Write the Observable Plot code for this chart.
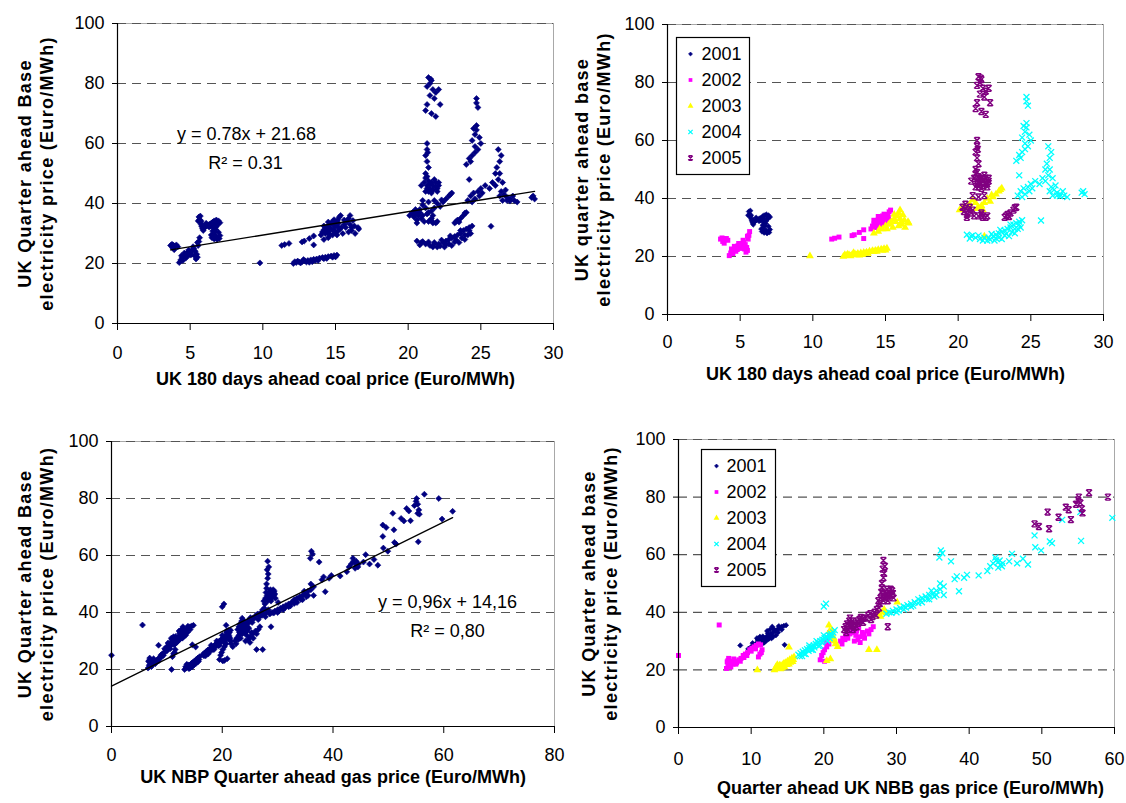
<!DOCTYPE html>
<html><head><meta charset="utf-8">
<script src="https://cdn.jsdelivr.net/npm/d3@7"></script>
<script src="https://cdn.jsdelivr.net/npm/@observablehq/plot@0.6"></script>
<style>
body{margin:0;background:#fff;}
#wrap{position:relative;width:1126px;height:803px;overflow:hidden;background:#fff;}
#wrap > svg{position:absolute;max-width:none;}
</style></head><body><div id="wrap"></div>
<script>
// ---------- data ----------
const years = ["2001","2002","2003","2004","2005"];
const yearColors = ["#000080","#FF00FF","#FFFF00","#00FFFF","#800080"];

// UK 180 days ahead coal price (x) vs quarter ahead base electricity price (y)
const coal2001 = [[5.6,35.5],[5.65,34.6],[5.7,33.8],[5.75,33],[5.8,32.3],[5.85,31.6],[5.9,31],[5.95,31.8],[6.05,32.2],[6.15,32.6],[6.25,32.9],[6.35,33.1],[6.45,33.4],[6.55,33.8],[6.65,34.2],[6.8,34.5],[6.95,34.2],[7.05,33.6],[6.9,33],[6.8,32.3],[6.75,31.4],[6.7,30.5],[6.6,29.6],[6.5,28.6],[6.65,28.2],[6.85,28],[7.0,28.3],[7.05,29.3],[6.95,30.4],[5.55,34.2],[5.7,35.8],[6.3,32.2],[5.75,34.2],[5.9,32.6],[6.1,33.4],[6.4,32.5],[6.6,33],[6.85,33.6],[6.6,31.8],[6.55,30.8],[6.8,29],[6.45,29.5]];
const coal2002 = [[3.65,26],[3.75,26.4],[3.85,26.1],[3.95,25.8],[4.05,26.2],[4.15,25.6],[3.8,25.2],[3.9,24.6],[4.25,20.3],[4.35,21.2],[4.45,21.9],[4.55,22.4],[4.65,22.9],[4.75,23.4],[4.85,23.7],[4.95,23.4],[5.05,23.9],[5.15,24.4],[5.25,25],[5.35,24.1],[5.45,23.1],[5.5,22.1],[5.4,21.5],[5.3,22.6],[5.55,26],[5.6,27.3],[5.65,28.6],[5.5,27],[4.5,21],[4.8,22.4],[5.0,22.8],[4.4,22.6],[4.6,23.5],[4.9,24.5],[5.1,23],[5.2,25.6],[4.7,21.8],[11.3,26],[11.5,26.3],[11.8,26.7],[12.7,27.2],[12.85,27.5],[13.2,28.3],[13.5,29.2],[13.5,26.2],[14.0,29.5],[14.1,30.5],[14.2,31.2],[14.3,31.8],[14.4,32.2],[14.5,32.6],[14.6,33],[14.7,33.3],[14.85,33],[14.95,32.2],[15.05,33.6],[15.15,34.5],[15.25,35.4],[15.35,36],[14.5,30.5],[14.7,31.5],[14.3,30],[15.1,32.5],[14.4,31],[14.8,34],[14.6,29.8],[14.2,32.5],[14.5,33.8],[14.9,34.6],[15.2,33.4],[14.6,31.2],[14.9,30.8]];
const coal2003 = [[9.8,20.2],[12.1,20],[12.3,20.3],[12.5,20.5],[12.7,20.6],[12.9,20.9],[13.1,21],[13.3,21.2],[13.5,21.4],[13.7,21.5],[13.9,21.8],[14.1,22],[14.3,22.1],[14.5,22.3],[14.7,22.5],[14.9,22.7],[15.1,22.8],[13.0,20.5],[13.6,21],[14.2,21.6],[12.6,20.2],[14.8,22.1],[12.4,20.8],[13.4,20.6],[12.2,20.6],[12.8,21.3],[13.2,20.4],[13.8,21],[14.4,21.7],[15.0,22.2],[14.2,28],[14.5,28.6],[14.8,29.5],[15.0,30.5],[15.2,31],[15.4,32],[15.6,33],[15.8,34],[15.9,35],[16.0,36],[16.2,34.3],[16.3,32.5],[16.1,31],[15.9,30.5],[16.35,30],[15.5,30],[15.7,32],[16.0,33],[16.55,32],[16.6,31.5],[14.6,29.5],[15.1,29.5],[15.3,31.5],[15.6,34.5],[16.1,32],[20.1,36],[20.5,37],[20.8,38],[21.0,39.5],[21.2,38.5],[21.4,37],[21.6,37.5],[21.8,38.5],[22.0,40],[22.2,39],[22.4,40.5],[22.6,41.5],[22.8,42.5],[23.0,43.5],[21.3,36.5],[21.7,36],[20.3,36.8],[20.7,37.5],[22.3,41.2],[22.9,43],[21.8,27]];
const coal2004 = [[20.6,27.5],[20.9,27],[21.2,26.5],[21.5,26],[21.8,26.5],[22.1,26.5],[22.4,27],[22.6,27.5],[22.8,28],[23.0,28.5],[23.2,29],[23.4,29.5],[23.6,30],[23.8,31],[24.0,31.5],[24.2,32],[24.4,32.5],[22.0,25.5],[22.5,25.5],[23.0,26],[23.5,27],[23.9,28],[24.3,30],[22.8,26.5],[23.3,27.8],[21.7,25.5],[20.8,26.2],[24.1,29.5],[21.0,27.3],[21.4,27.2],[22.2,25.8],[22.6,26.3],[23.2,27.2],[23.7,28.5],[23.9,29.5],[24.2,31],[22.3,27.8],[22.9,29.2],[23.6,31],[25.7,32.4],[24.1,41],[24.3,42.5],[24.5,43.5],[24.8,44],[25.0,45],[25.3,46],[24.4,40.5],[24.6,41.5],[24.2,48],[24.9,42.5],[25.1,43.5],[24.0,53],[24.2,55],[24.4,56],[24.6,57],[24.8,58],[25.0,60],[24.9,62],[24.6,63],[24.5,65],[24.7,66],[24.3,54],[24.6,59],[24.4,61],[24.7,64.5],[24.7,75],[24.7,73.5],[24.8,72],[26.2,58],[26.4,56],[26.3,54],[26.1,52],[26.0,50],[26.2,48],[26.0,46],[26.4,44],[26.6,43],[26.8,42],[27.0,41.5],[27.3,41],[26.5,41],[26.3,42.5],[25.8,47],[25.6,45],[27.5,40.5],[26.5,47],[26.3,50],[26.7,44.5],[27.2,42.5],[27.0,40.8],[26.8,41],[28.5,42],[28.7,41.5],[28.6,42.5]];
const coal2005 = [[21.4,82],[21.6,81],[21.5,80],[21.3,79],[21.7,78],[21.9,77],[22.1,78],[21.5,76],[21.8,75],[21.3,73],[22.2,73],[21.6,70],[21.9,69],[21.2,71],[21.55,81.5],[21.3,60],[21.3,58],[21.35,57],[21.2,56],[21.3,54],[21.4,52],[21.2,50],[21.3,49],[20.9,46],[21.1,47],[21.3,46],[21.5,45],[21.7,46],[21.9,47],[22.1,46],[22.0,44],[21.6,43.5],[21.2,44],[21.8,48],[21.4,47.5],[21.6,47],[22.0,45],[21.3,45],[21.5,46.5],[21.7,44.5],[21.9,45.5],[21.2,48.5],[21.4,44],[22.1,47],[21.0,41],[21.4,40.5],[21.8,41],[20.3,37],[20.5,38],[20.7,36],[20.6,34.5],[20.9,35],[21.1,34],[20.4,35.5],[20.5,36.5],[20.8,37],[21.0,36],[20.6,33.5],[21.4,34],[21.7,33.5],[22.0,34],[21.6,35],[21.9,33.5],[21.6,34.3],[23.2,33.5],[23.4,34.5],[23.6,35],[23.8,36],[24.0,37],[23.5,33.8],[23.9,36.8],[23.3,34]];

// UK NBP quarter ahead gas price (x) vs quarter ahead base electricity price (y)
const gas2001 = [[8.5,28.5],[9.6,27.3],[10.0,28],[10.3,28.5],[10.6,29],[10.9,29.5],[11.2,30],[11.5,30.5],[11.8,31],[12.1,31.5],[12.4,32],[12.7,32.5],[13.0,33],[13.3,33.5],[13.6,34],[13.9,34.5],[14.2,35],[14.5,35.3],[14.8,35.5],[12.0,30],[12.5,31],[13.0,31.5],[12.2,33.5],[12.6,34],[11.5,29],[13.4,32],[11.2,31.5],[12.9,35],[10.8,31],[13.7,33],[14.6,28.7],[11.8,29.5],[12.3,30.5],[10.2,29.3],[10.9,30.4],[11.6,31.6],[12.3,32.7],[13.1,34.2],[13.8,35.2],[14.2,34],[12.8,31],[11.4,29.8]];
const gas2002 = [[0,25],[5.6,35.6],[6.6,20.5],[6.8,21.5],[7.0,22.5],[7.2,21],[7.5,22],[7.8,23],[8.0,22.5],[8.3,23.5],[8.6,24],[8.9,25],[9.2,25.5],[9.5,26],[9.8,27],[10.1,27.5],[10.4,28],[10.7,28.5],[11.0,29],[11.3,28.7],[11.5,27],[11.2,25.5],[11.0,24.5],[11.4,26],[7.3,23],[6.9,24],[6.7,22.8],[7.6,23.8],[7.1,21.6],[7.4,22.5],[7.9,22],[8.5,23],[9.0,24.3],[9.4,25],[10.0,26.5],[10.6,27.3],[6.8,23.2],[19.5,23.5],[19.7,25],[19.9,26],[20.1,27],[20.4,28],[20.7,29],[20.5,31],[20.8,33],[20.1,23],[20.3,29.5],[22.3,30],[22.6,31],[23.0,32],[23.3,31],[23.6,32.5],[24.0,33],[24.4,32],[24.7,30.5],[25.0,31.5],[25.3,33],[25.6,31],[26.0,33.5],[26.5,34],[24.2,30],[22.5,29],[25.0,29.5],[26.8,35],[23.8,34],[24.8,34.5],[23.2,32.8],[24.5,33.5],[25.5,32.5],[22.9,30.5],[26.2,32.5]];
const gas2003 = [[10.85,20],[13.2,20],[13.5,20.5],[13.8,21],[14.1,21.5],[14.4,22],[14.7,22.5],[15.0,23],[15.3,23.5],[15.6,24],[15.9,24.5],[14.0,20.3],[14.6,21],[15.2,22],[15.7,22.8],[13.6,21.8],[14.3,20.8],[15.4,22.6],[13.4,21],[13.9,21.6],[14.5,22.2],[14.9,21.8],[15.5,23.2],[15.8,23.5],[14.2,20.6],[15.2,27.9],[20.7,35.5],[20.8,33.5],[21.0,32],[21.3,30.5],[21.6,29],[21.9,28],[21.2,31.5],[21.5,30],[21.1,33.7],[21.4,31],[20.4,23.2],[20.9,23.8],[26.2,27],[27.3,27],[27,39],[27.5,39.5],[28,40],[27.8,38.5],[28.3,41],[28.6,39.8],[30.1,43.5]];
const gas2004 = [[16.5,25.3],[16.8,25.8],[17.1,26.3],[17.4,26.8],[17.7,27.2],[18.0,27.6],[18.3,28],[18.6,28.5],[18.9,29],[19.2,29.5],[19.5,30],[19.8,30.5],[20.1,31],[20.4,31.5],[20.7,32],[21.0,32.5],[21.3,33],[21.5,33.8],[17.5,25.5],[18.5,27],[19.5,28.5],[20.5,30],[18.0,28.5],[19.0,30],[20.0,32],[17.0,24.8],[20.8,31],[16.7,24.8],[17.3,25.6],[17.9,26.6],[18.7,27.8],[19.3,28.3],[19.7,29.6],[20.3,30.6],[20.9,32],[21.2,32],[18.3,27],[20.0,42],[20.3,43],[28.6,39.5],[29.0,40],[29.5,40.5],[30.0,41],[30.5,41.5],[31.0,42],[31.5,42.5],[32.0,43],[32.5,43.5],[33.0,44.5],[33.5,45],[34.0,45.5],[34.5,46],[35.0,46.5],[35.5,47.5],[36.0,48],[30.0,40],[31.0,41],[32.0,42],[33.5,43.5],[34.5,44.5],[35.5,46],[36.5,46],[36.5,49],[34.8,47.5],[36,50],[29.3,39.8],[30.3,40.6],[31.3,41.6],[32.3,42.3],[33.3,44],[34.2,44.6],[35.2,45.5],[33,43.2],[36.1,61.5],[36.3,60.5],[35.9,59],[37.5,57.7],[38.0,51.5],[38.3,52.5],[39.3,52],[39.7,53],[38.6,47.3],[41.3,52.8],[42.5,54.3],[42.9,56],[43.3,57],[43.7,58],[44.0,57.5],[44.3,56.5],[44.6,57],[44.0,55.5],[43.6,59],[44.2,58],[44.5,56],[45.5,57.7],[45.9,60.3],[46.6,57],[47.4,58.6],[48.1,56.6],[49,66.7],[49.1,62.6],[49.9,61.5],[51.1,64.6],[51.4,64],[52.8,72.1],[55.4,64.8],[55.3,74.8],[59.7,72.8],[61.6,75.5]];
const gas2005 = [[22.8,34],[23.0,35],[23.2,36],[23.5,37],[23.8,36],[24.0,35.5],[24.3,36],[24.6,37],[24.9,37.5],[25.2,37],[25.5,38],[23.3,34],[24.0,34],[23.6,38],[24.5,35],[23.1,33],[23.4,35.5],[23.9,37],[24.2,34.8],[24.7,36.2],[25.1,38.2],[25.4,36.5],[23.7,35.2],[25.8,38],[26.1,39],[26.4,39.5],[26.7,38.5],[27.0,40],[27.3,41],[27.6,41.5],[26.5,37.5],[27.2,39],[28.8,35],[27.5,44],[27.8,45],[28.1,46],[28.4,47],[28.7,48],[29.0,47],[29.3,46],[29.6,45],[28.2,44],[28.9,45],[29.2,48],[27.9,47],[28.5,45.5],[29.4,47.5],[28.3,45],[28.6,46.5],[28.8,44],[29.1,46],[28.0,48.5],[29.5,46.5],[27.7,43],[28.0,50],[28.2,52],[28.3,53.5],[28.1,55],[28.4,56],[28.2,58],[49,70.7],[49.6,69.8],[50.8,74.8],[51,69],[52.3,73],[53.3,76.5],[53.7,75.6],[54,72.2],[54.7,77.5],[55.0,79],[55.3,78],[55.5,76],[55.1,80],[55.6,74.5],[56.5,81.5],[59.1,80]];

const coalTrend = {slope: 0.78, intercept: 21.68, eq: "y = 0.78x + 21.68", r2: "R² = 0.31"};
const gasTrend = {slope: 0.96, intercept: 14.16, eq: "y = 0,96x + 14,16", r2: "R² = 0,80"};

const yTicks = [0, 20, 40, 60, 80, 100];
const gridTicks = [20, 40, 60, 80, 100];
const coalXTicks = [0, 5, 10, 15, 20, 25, 30];
const gasXTicks3 = [0, 20, 40, 60, 80];
const gasXTicks4 = [0, 10, 20, 30, 40, 50, 60];

const coalXLabel = "UK 180 days ahead coal price (Euro/MWh)";
const gasXLabel3 = "UK NBP Quarter ahead gas price (Euro/MWh)";
const gasXLabel4 = "Quarter ahead UK NBB gas price (Euro/MWh)";
const yLabel1 = "UK Quarter ahead Base\nelectricity price (Euro/MWh)";
const yLabel2 = "UK quarter ahead base\nelectricity price (Euro/MWh)";
const yLabel4 = "UK Quarter ahead base\nelectricity price (Euro/MWh)";

// ---------- drawing ----------
const FONT = "'Liberation Sans', Arial, Helvetica, sans-serif";
const coalData = [coal2001, coal2002, coal2003, coal2004, coal2005];
const gasData = [gas2001, gas2002, gas2003, gas2004, gas2005];

const hourglass = {
  draw(ctx, size) {
    const r = Math.sqrt(size) * 0.6;
    ctx.moveTo(-r, -r); ctx.lineTo(r, r);
    ctx.moveTo(r, -r); ctx.lineTo(-r, r);
    ctx.moveTo(-r * 0.8, -r); ctx.lineTo(r * 0.8, -r);
    ctx.moveTo(-r * 0.8, r); ctx.lineTo(r * 0.8, r);
  }
};
const yearStyle = [
  {symbol: "diamond2", r: 2.4, fill: yearColors[0], stroke: yearColors[0], strokeWidth: 0.6},
  {symbol: "square", r: 2.8, fill: yearColors[1], stroke: "none"},
  {symbol: "triangle", r: 2.9, fill: yearColors[2], stroke: "none"},
  {symbol: "times", r: 2.8, fill: "none", stroke: yearColors[3], strokeWidth: 1.3},
  {symbol: hourglass, r: 2.8, fill: "none", stroke: yearColors[4], strokeWidth: 1.4}
];

const wrap = document.getElementById("wrap");

function panel(cfg) {
  const marks = [
    Plot.frame({anchor: "top", stroke: "#a8a8a8"}),
    Plot.frame({anchor: "right", stroke: "#a8a8a8"}),
    Plot.ruleY(gridTicks, {stroke: "#555", strokeDasharray: "9,6", strokeWidth: 1.2}),
    ...cfg.dataMarks,
    ...(cfg.extra || []),
    Plot.ruleX([0], {stroke: "black", strokeWidth: 1.2}),
    Plot.ruleY([0], {stroke: "black", strokeWidth: 1.2}),
    Plot.axisY({ticks: yTicks, tickSize: 5, tickPadding: 8, fontSize: 18, label: null}),
    Plot.axisX({ticks: cfg.xTicks, tickSize: 7, tickPadding: cfg.xPad, fontSize: 18, label: null}),
    Plot.text([cfg.yLabel], {frameAnchor: "left", rotate: -90, dx: cfg.yDx, fontWeight: "bold", fontSize: 18, lineHeight: 1.22, textAnchor: "middle"}),
    Plot.text([cfg.xLabel], {frameAnchor: "bottom", dx: cfg.xDx || 0, dy: cfg.xDy, fontWeight: "bold", fontSize: 18, textAnchor: "middle"})
  ];
  const svg = Plot.plot({
    width: cfg.box[2], height: cfg.box[3],
    marginLeft: cfg.m[0], marginTop: cfg.m[1], marginRight: cfg.m[2], marginBottom: cfg.m[3],
    x: {domain: cfg.xDomain},
    y: {domain: [0, 100]},
    style: {fontFamily: FONT, fontSize: "18px", background: "transparent", overflow: "visible", color: "black"},
    marks
  });
  // the rotated axis titles are drawn a little wider in the original
  svg.querySelectorAll("text").forEach(t => {
    if (t.textContent.includes("electricity")) t.style.letterSpacing = "1.3px";
  });
  svg.style.left = cfg.box[0] + "px";
  svg.style.top = cfg.box[1] + "px";
  wrap.appendChild(svg);
}

function legend(box) {
  const marks = [Plot.frame({fill: "white", stroke: "black", strokeWidth: 1.2})];
  years.forEach((yr, i) => {
    const s = yearStyle[i];
    marks.push(Plot.dot([yr], {y: d => d, frameAnchor: "left", dx: box[4], symbol: s.symbol, r: s.r * 0.75, fill: s.fill, stroke: s.stroke, strokeWidth: s.strokeWidth || 1}));
  });
  marks.push(Plot.text(years, {y: d => d, frameAnchor: "left", dx: box[5], textAnchor: "start", fontSize: 18}));
  const svg = Plot.plot({
    width: box[2], height: box[3], margin: 0,
    y: {type: "band", domain: years, axis: null},
    style: {fontFamily: FONT, background: "transparent", overflow: "visible", color: "black"},
    marks
  });
  svg.style.left = box[0] + "px";
  svg.style.top = box[1] + "px";
  wrap.appendChild(svg);
}

function allNavy(list) {
  return list.map(data => Plot.dot(data, {x: d => d[0], y: d => d[1], symbol: "diamond2", r: 2.7, fill: yearColors[0], stroke: yearColors[0], strokeWidth: 0.6}));
}
function byYear(list, maxX) {
  return list.map((data, i) => {
    const s = yearStyle[i];
    return Plot.dot(data.filter(d => d[0] <= maxX), {x: d => d[0], y: d => d[1], symbol: s.symbol, r: s.r, fill: s.fill, stroke: s.stroke, strokeWidth: s.strokeWidth || 1});
  });
}
function trend(list, t) {
  const ext = d3.extent(list.flat(), d => d[0]);
  return Plot.line(ext.map(x => ({x, y: t.slope * x + t.intercept})), {x: "x", y: "y", stroke: "black", strokeWidth: 1.3});
}

// Panel 1 : coal, all points, trend line
panel({
  box: [0, 0, 563, 400], m: [117, 23, 10, 77],
  xDomain: [0, 30], xTicks: coalXTicks, xPad: 16,
  dataMarks: allNavy(coalData),
  extra: [
    trend(coalData, coalTrend),
    Plot.text([coalTrend.eq], {frameAnchor: "top-left", dx: 129, dy: 104, fontSize: 18, textAnchor: "middle"}),
    Plot.text([coalTrend.r2], {frameAnchor: "top-left", dx: 128, dy: 133, fontSize: 18, textAnchor: "middle"})
  ],
  yLabel: yLabel1, yDx: -83, xLabel: coalXLabel, xDy: 61
});

// Panel 2 : coal, by year
panel({
  box: [563, 0, 563, 400], m: [104, 24, 23, 86],
  xDomain: [0, 30], xTicks: coalXTicks, xPad: 14,
  dataMarks: byYear(coalData, 30),
  yLabel: yLabel2, yDx: -76, xLabel: coalXLabel, xDy: 65
});
legend([676, 37, 73, 137, 14, 25]);

// Panel 3 : gas, all points, trend line
panel({
  box: [0, 400, 563, 403], m: [111, 41, 9, 77],
  xDomain: [0, 80], xTicks: gasXTicks3, xPad: 15,
  dataMarks: allNavy(gasData),
  extra: [
    trend(gasData, gasTrend),
    Plot.text([gasTrend.eq], {frameAnchor: "top-left", dx: 336, dy: 154, fontSize: 18, textAnchor: "middle"}),
    Plot.text([gasTrend.r2], {frameAnchor: "top-left", dx: 336, dy: 183, fontSize: 18, textAnchor: "middle"})
  ],
  yLabel: yLabel1, yDx: -77, xLabel: gasXLabel3, xDy: 56
});

// Panel 4 : gas, by year
panel({
  box: [563, 400, 563, 403], m: [115, 39, 12, 76],
  xDomain: [0, 60], xTicks: gasXTicks4, xPad: 18,
  dataMarks: byYear(gasData, 60),
  yLabel: yLabel4, yDx: -80, xLabel: gasXLabel4, xDx: 14, xDy: 66
});
legend([701, 449, 74, 137, 15, 25]);
</script></body></html>
